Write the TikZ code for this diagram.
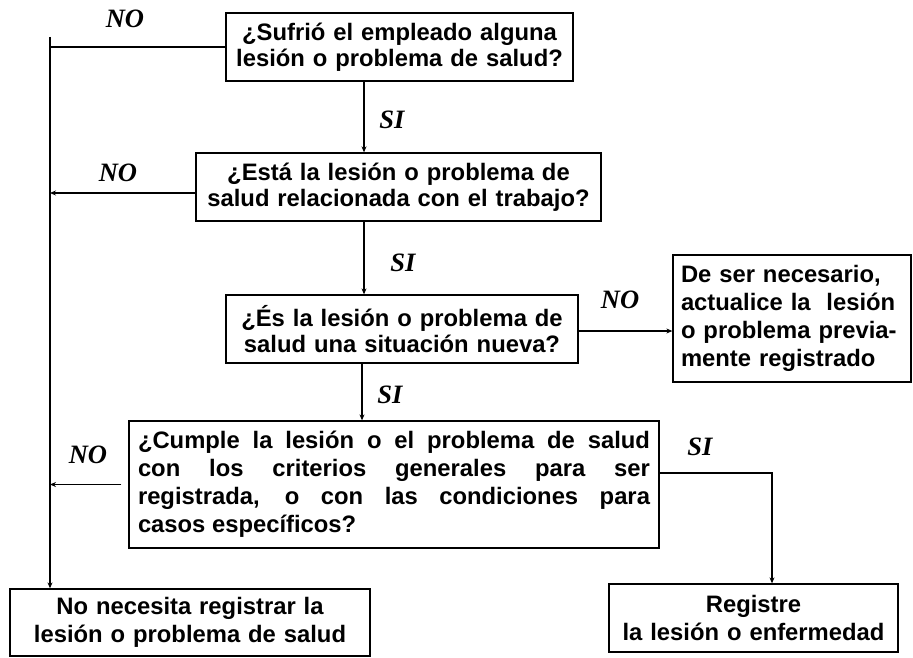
\documentclass[tikz,border=0pt]{standalone}
\usepackage{fontspec}
\setmainfont{Liberation Sans}
\newfontfamily\lblfont{Liberation Serif}
\usetikzlibrary{arrows.meta}
\tikzset{
  box/.style={draw, line width=1.3pt, font=\fontsize{23.8}{25.5}\selectfont\bfseries, inner sep=0pt, minimum height=68pt},
  tallbox/.style={box, font=\fontsize{23.8}{28}\selectfont\bfseries},
  lbl/.style={font=\lblfont\fontsize{26.5}{28}\selectfont\bfseries\itshape, inner sep=0pt},
  conn/.style={line width=1.3pt},
  arr/.style={line width=1.3pt, -{Stealth[length=6pt,width=5pt]}}
}
\begin{document}
\begin{tikzpicture}[x=1pt,y=-1pt]
\useasboundingbox (0,0) rectangle (913,658);
\node[box, minimum width=347pt, text width=340pt, align=center] (q1) at (399.5,47) {¿Sufrió el empleado alguna\\lesión o problema de salud?};
\node[box, minimum width=405pt, text width=398pt, align=center] (q2) at (398.5,187) {¿Está la lesión o problema de\\salud relacionada con el trabajo?};
\node[box, minimum width=352pt, text width=345pt, align=center] (q3) at (402,329) {¿És la lesión o problema de\\salud una situación nueva?};
\node[tallbox, minimum width=238pt, minimum height=127pt, text width=222pt, align=left] (upd) at (792,318.5) {De ser necesario,\\actualice la\ \ lesión\\o problema previa-\\mente registrado};
\node[tallbox, minimum width=530pt, minimum height=127pt, text width=512pt, align=justify] (q4) at (394,484.5) {¿Cumple la lesión o el problema de salud\linebreak con los criterios generales para ser\linebreak registrada, o con las condiciones para\linebreak casos específicos?};
\node[tallbox, minimum width=360pt, minimum height=67pt, text width=350pt, align=center] (nreg) at (190,622.5) {No necesita registrar la\\lesión o problema de salud};
\node[tallbox, minimum width=289pt, text width=280pt, align=center] (reg) at (753.5,618) {Registre\\la lesión o enfermedad};

\coordinate (spine) at (364,0);
\coordinate (spineb) at (362,0);
\coordinate (ltop) at (50,37);
\coordinate (c5) at (772,473);

\draw[arr] (q1.south -| spine) -- (q2.north -| spine);
\draw[arr] (q2.south -| spine) -- (q3.north -| spine);
\draw[arr] (q3.south -| spineb) -- (q4.north -| spineb);
\draw[arr] ([yshift=-2pt]q3.east) -- ([yshift=-2pt]q3.east -| upd.west);
\draw[conn] (q1.west) -- (q1.west -| ltop);
\draw[arr] (ltop) -- (nreg.north -| ltop);
\draw[arr] ([yshift=-6pt]q2.west) -- ([yshift=-6pt]q2.west -| ltop);
\draw[arr] ([xshift=-7pt]q4.west) -- (q4.west -| ltop);
\draw[arr] (q4.east |- c5) -- (c5) -- (c5 |- reg.north);

\node[lbl] (no1) at (125,19) {NO};
\node[lbl] (si1) at (392,120) {SI};
\node[lbl] (no2) at (118,173) {NO};
\node[lbl] (si2) at (403,263) {SI};
\node[lbl] (si3) at (390,395) {SI};
\node[lbl] (no3) at (620,300) {NO};
\node[lbl] (no4) at (88,455) {NO};
\node[lbl] (si4) at (700,447) {SI};
\end{tikzpicture}
\end{document}
